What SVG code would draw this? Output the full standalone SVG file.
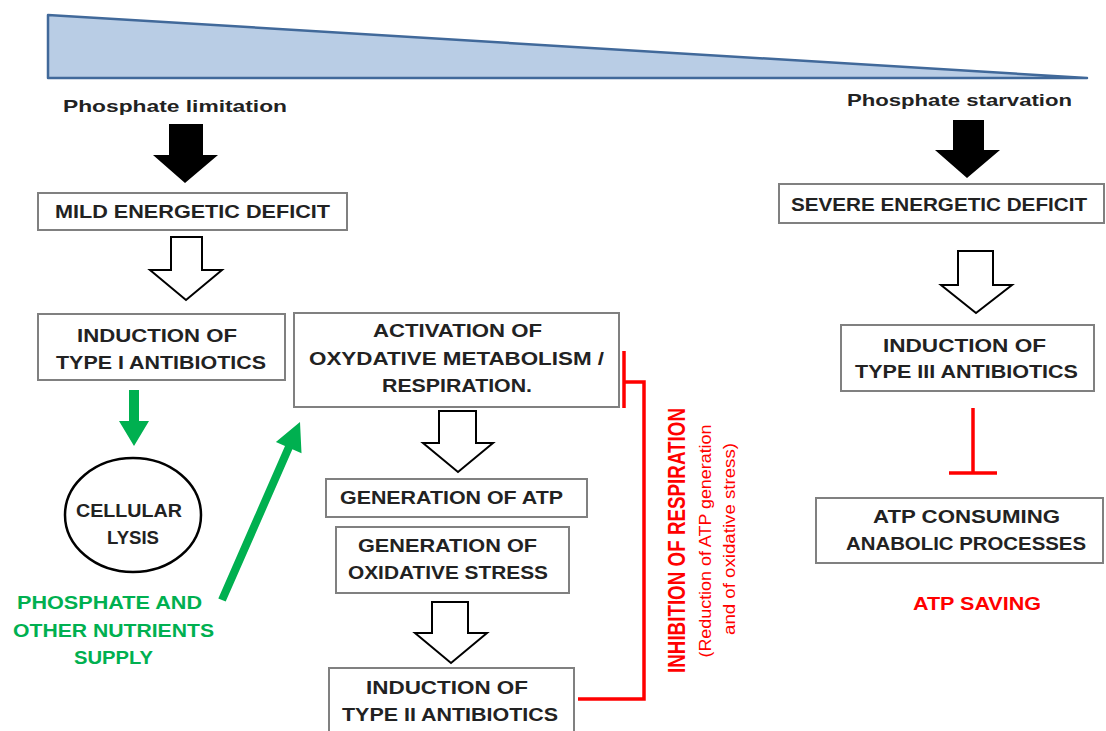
<svg xmlns="http://www.w3.org/2000/svg" width="1106" height="731" viewBox="0 0 1106 731">
<style>
.t{font-family:"Liberation Sans",Arial,sans-serif;font-weight:bold;font-size:18px;fill:#222;text-anchor:middle}
.h{font-size:17px;text-anchor:start}
.box{fill:#fff;stroke:#808080;stroke-width:2}
.blk{fill:#000}
.hol{fill:#fff;stroke:#000;stroke-width:2;stroke-linejoin:miter}
.g{fill:#00b050}
.gt{fill:#00b050}
.rt{fill:#ff0000}
.red{fill:none;stroke:#ff0000;stroke-width:3.5}
</style>
<rect width="1106" height="731" fill="#fff"/>
<g id="gradient">
<polygon points="48,15 48,78 1087,78" fill="#b9cde5" stroke="#41699a" stroke-width="2.5" stroke-linejoin="round"/>
</g>
<g id="phosphate-limitation"><text class="t h" x="63" y="112" textLength="224" lengthAdjust="spacingAndGlyphs">Phosphate  limitation</text></g>
<g id="phosphate-starvation"><text class="t h" x="847" y="106" textLength="225" lengthAdjust="spacingAndGlyphs">Phosphate  starvation</text></g>
<g id="mild">
<rect class="box" x="38" y="193" width="309" height="37"/>
<text class="t" x="192.5" y="218" textLength="275" lengthAdjust="spacingAndGlyphs">MILD  ENERGETIC DEFICIT</text>
</g>
<g id="type1">
<rect class="box" x="38" y="314" width="247" height="66"/>
<text class="t" x="157" y="342" textLength="160" lengthAdjust="spacingAndGlyphs">INDUCTION OF</text>
<text class="t" x="161" y="369" textLength="210" lengthAdjust="spacingAndGlyphs">TYPE I ANTIBIOTICS</text>
</g>
<g id="lysis">
<ellipse cx="133" cy="515" rx="68" ry="57" fill="#fff" stroke="#000" stroke-width="2.5"/>
<text class="t" x="129" y="517" textLength="106" lengthAdjust="spacingAndGlyphs">CELLULAR</text>
<text class="t" x="133" y="544" textLength="52" lengthAdjust="spacingAndGlyphs">LYSIS</text>
</g>
<g id="supply">
<text class="t gt" x="109.5" y="609" textLength="185" lengthAdjust="spacingAndGlyphs">PHOSPHATE  AND</text>
<text class="t gt" x="113.5" y="637" textLength="201" lengthAdjust="spacingAndGlyphs">OTHER NUTRIENTS</text>
<text class="t gt" x="113.5" y="664" textLength="79" lengthAdjust="spacingAndGlyphs">SUPPLY</text>
</g>
<g id="activation">
<rect class="box" x="294" y="313" width="325" height="94"/>
<text class="t" x="457.5" y="337" textLength="169" lengthAdjust="spacingAndGlyphs">ACTIVATION  OF</text>
<text class="t" x="456.5" y="365" textLength="295" lengthAdjust="spacingAndGlyphs">OXYDATIVE  METABOLISM  /</text>
<text class="t" x="457" y="392" textLength="150" lengthAdjust="spacingAndGlyphs">RESPIRATION.</text>
</g>
<g id="atp">
<rect class="box" x="326" y="479" width="261" height="38"/>
<text class="t" x="451.5" y="504" textLength="223" lengthAdjust="spacingAndGlyphs">GENERATION  OF ATP</text>
</g>
<g id="oxstress">
<rect class="box" x="336" y="527" width="233" height="66"/>
<text class="t" x="447.5" y="552" textLength="179" lengthAdjust="spacingAndGlyphs">GENERATION  OF</text>
<text class="t" x="448" y="579" textLength="200" lengthAdjust="spacingAndGlyphs">OXIDATIVE  STRESS</text>
</g>
<g id="type2">
<rect class="box" x="329" y="668" width="245" height="80"/>
<text class="t" x="447" y="694" textLength="162" lengthAdjust="spacingAndGlyphs">INDUCTION OF</text>
<text class="t" x="450" y="721" textLength="216" lengthAdjust="spacingAndGlyphs">TYPE II ANTIBIOTICS</text>
</g>
<g id="severe">
<rect class="box" x="779" y="184" width="325" height="39"/>
<text class="t" x="939" y="211" textLength="296" lengthAdjust="spacingAndGlyphs">SEVERE  ENERGETIC DEFICIT</text>
</g>
<g id="type3">
<rect class="box" x="841" y="325" width="253" height="66"/>
<text class="t" x="964.5" y="352" textLength="163" lengthAdjust="spacingAndGlyphs">INDUCTION OF</text>
<text class="t" x="966.5" y="378" textLength="223" lengthAdjust="spacingAndGlyphs">TYPE III ANTIBIOTICS</text>
</g>
<g id="anabolic">
<rect class="box" x="816" y="498" width="287" height="65"/>
<text class="t" x="966.5" y="523" textLength="187" lengthAdjust="spacingAndGlyphs">ATP CONSUMING</text>
<text class="t" x="966" y="550" textLength="240" lengthAdjust="spacingAndGlyphs">ANABOLIC PROCESSES</text>
</g>
<g id="atp-saving"><text class="t rt" x="977" y="610" textLength="128" lengthAdjust="spacingAndGlyphs">ATP SAVING</text></g>
<g id="inhibition-label">
<text class="t rt" transform="translate(685,540.5) rotate(-90)" x="0" y="0" style="font-size:23px" textLength="265" lengthAdjust="spacingAndGlyphs">INHIBITION OF RESPIRATION</text>
<text class="rt" transform="translate(711,541) rotate(-90)" x="0" y="0" style="font-family:'Liberation Sans',Arial,sans-serif;font-size:17px;text-anchor:middle" textLength="233" lengthAdjust="spacingAndGlyphs">(Reduction of ATP generation</text>
<text class="rt" transform="translate(735,539) rotate(-90)" x="0" y="0" style="font-family:'Liberation Sans',Arial,sans-serif;font-size:17px;text-anchor:middle" textLength="192" lengthAdjust="spacingAndGlyphs">and of oxidative stress)</text>
</g>
<g id="connectors">
<polygon class="blk" points="169,124 203,124 203,155 218,155 185,183 153,155 169,155"/>
<polygon class="blk" points="953,120 984,120 984,150 1000,150 967,178 935,150 953,150"/>
<polygon class="hol" points="171,237 202,237 202,270 222,270 186,300 150,270 171,270"/>
<polygon class="hol" points="439,411 476,411 476,443 493,443 458,472 423,443 439,443"/>
<polygon class="hol" points="432,602 468,602 468,633 487,633 451,663 415,633 432,633"/>
<polygon class="hol" points="958,251 993,251 993,285 1012,285 976,313 941,285 958,285"/>
<polygon class="g" points="129,390 139,390 139,421 149,421 134,446 119,421 129,421"/>
<polygon class="g" points="218.3,598.4 285.0,446.1 275.9,442.1 300,422 301.5,453.3 292.4,449.3 225.7,601.6"/>
<line class="red" x1="624" y1="351" x2="624" y2="408"/>
<polyline class="red" points="624,382 644,382 644,699 578,699"/>
<line class="red" x1="973" y1="408" x2="973" y2="473"/>
<line class="red" x1="949" y1="473" x2="997" y2="473"/>
</g>
</svg>
